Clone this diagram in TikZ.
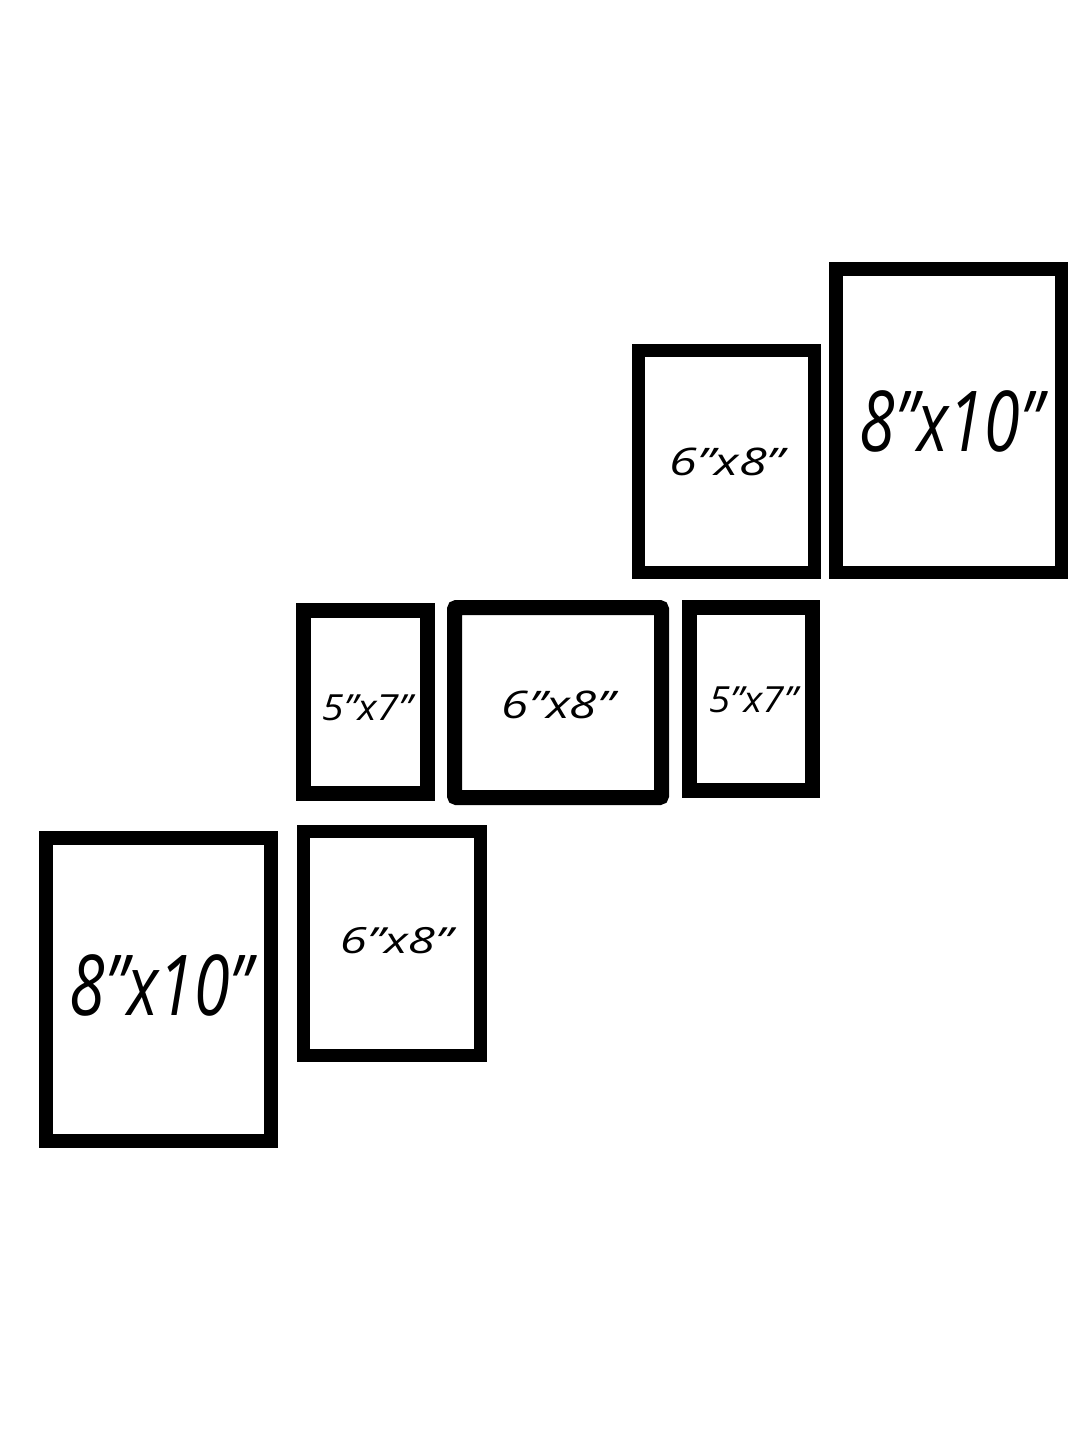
\documentclass[tikz,border=0pt]{standalone}
\usepackage{fontspec}
\setmainfont{Open Sans}
\begin{document}
\begin{tikzpicture}[x=0.5pt,y=-0.5pt,
  frame/.style n args={3}{draw=black,fill=white,inner sep=0pt,
    minimum width=#1*0.5pt,minimum height=#2*0.5pt,line width=#3*0.5pt},
  lab/.style 2 args={inner sep=0pt,font=\fontsize{#1}{#1}\selectfont\itshape,xscale=#2,transform shape}]
\useasboundingbox[fill=white] (0,0) rectangle (1080,1440);
% top row
\node[frame={176}{222}{13}] (f1) at (726.5,461.5) {};
\node[frame={225.5}{303.5}{13.5}] (f2) at (948.5,420.5) {};
% middle row
\node[frame={124}{183}{15}] (f3) at (365.5,702) {};
\node[frame={207}{190}{15},rounded corners=1pt] (f4) at (558,702.5) {};
\node[frame={123}{183}{15}] (f5) at (751,699) {};
% bottom row
\node[frame={225}{303}{14.5}] (f6) at (158.5,989.5) {};
\node[frame={177}{224}{13}] (f7) at (392,943.5) {};
% labels
\node[lab={19}{1.33}] (t1) at (727,462) {6”x8”};
\node[lab={42}{0.77}] (t2) at (951,421) {8”x10”};
\node[lab={18}{1.1}] (t3) at (367,708) {5”x7”};
\node[lab={19}{1.3}] (t4) at (558,705) {6”x8”};
\node[lab={18}{1.08}] (t5) at (753,700) {5”x7”};
\node[lab={42}{0.77}] (t6) at (161,985) {8”x10”};
\node[lab={18}{1.37}] (t7) at (396,941) {6”x8”};
\end{tikzpicture}
\end{document}
